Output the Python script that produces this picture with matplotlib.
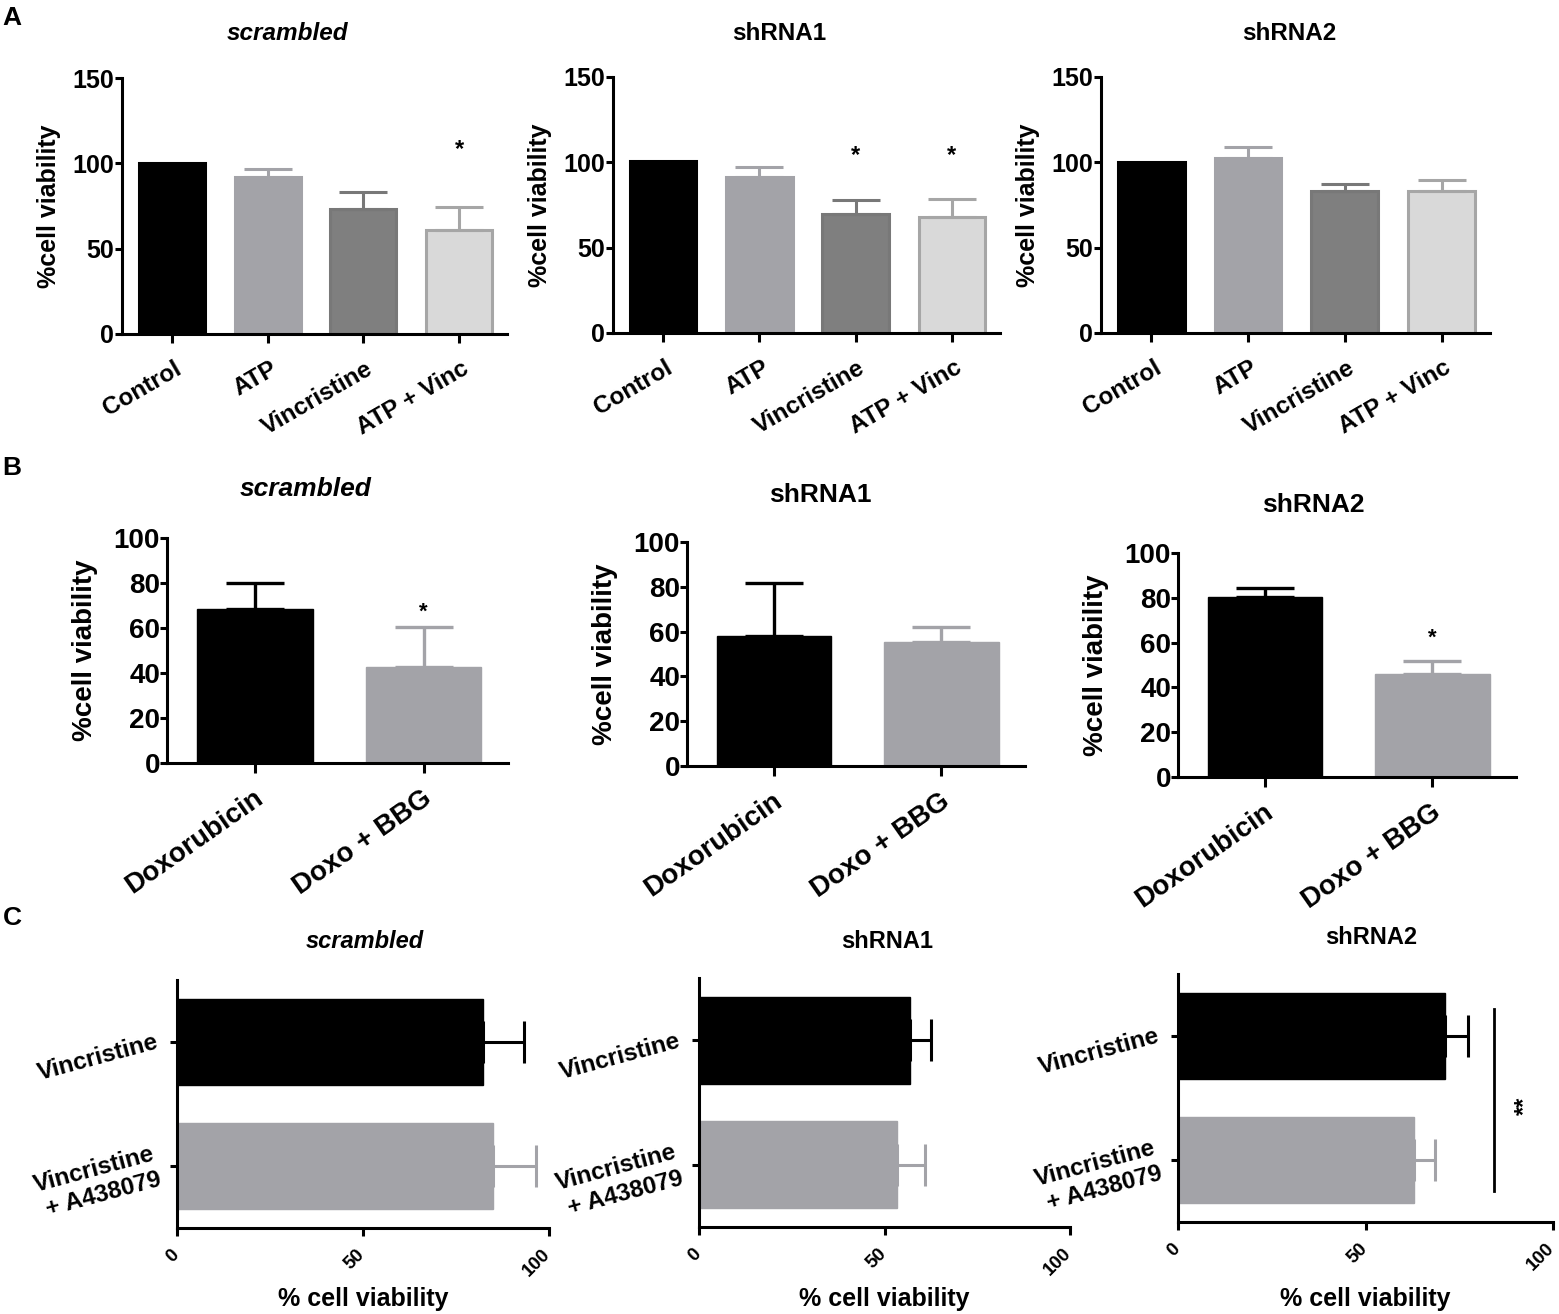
#!/usr/bin/env python3
"""
Cell viability panels A (ATP/Vincristine), B (Doxorubicin/BBG), C (Vincristine/A438079).
"""
import numpy as np
import matplotlib
matplotlib.use("Agg")
from matplotlib import pyplot as plt
from matplotlib.transforms import ScaledTranslation

plt.rcParams['font.family'] = ['Liberation Sans', 'DejaVu Sans']
plt.rcParams['font.weight'] = 'bold'
plt.rcParams['axes.labelweight'] = 'bold'

W, H = 1559, 1314
DPI = 100

### data
lines = ["scrambled", "shRNA1", "shRNA2"]

a_groups = ["Control", "ATP", "Vincristine", "ATP + Vinc"]
a_means = [[100, 92, 73, 61], [101, 91.5, 69.5, 68], [100, 102.7, 83.2, 83.2]]
a_sem = [[0, 4.5, 10, 13.5], [0, 6, 8.2, 10.5], [0, 6.3, 3.9, 6.3]]
a_sig = [["", "", "", "*"], ["", "", "*", "*"], ["", "", "", ""]]

b_groups = ["Doxorubicin", "Doxo + BBG"]
b_means = [[68.5, 42.7], [58, 55.4], [80.4, 46]]
b_sem = [[11.5, 17.7], [23.7, 6.6], [4, 5.8]]
b_sig = [["", "*"], ["", ""], ["", "*"]]

c_groups = ["Vincristine", "Vincristine\n+ A438079"]
c_means = [[82.3, 85], [56.9, 53.3], [71.2, 62.8]]
c_sem = [[11, 11.5], [5.7, 7.5], [6.1, 5.7]]

a_fill = ['#000000', '#a3a3a8', '#7f7f7f', '#d9d9d9']
a_edge = ['#000000', '#a3a3a8', '#787878', '#a6a6a6']
b_fill = ['#000000', '#a3a3a8']

###
def add_ax(l, t, r, b):
  return fig.add_axes([l/W, 1-b/H, (r-l)/W, (b-t)/H])

def style(ax, lw=2.2):
  for s in ['top', 'right']:
    ax.spines[s].set_visible(False)
  for s in ['left', 'bottom']:
    ax.spines[s].set_linewidth(lw)
  ax.tick_params(width=lw, direction='out')

def shift_labels(labels, dx, dy=0):
  # must come after tick_params(pad=...), which resets label transforms
  off = ScaledTranslation(dx/DPI, dy/DPI, fig.dpi_scale_trans)
  for lab in labels:
    lab.set_transform(lab.get_transform() + off)

def title(x, y, txt, size):
  st = 'italic' if txt == "scrambled" else 'normal'
  fig.text(x/W, 1-y/H, txt, ha='center', va='center', fontsize=size, fontweight='bold', style=st)

fig = plt.figure(figsize=(W/DPI, H/DPI), dpi=DPI)

### Panel A
a_boxes = [(122, 78, 507, 334), (613, 77, 1000, 333), (1101, 77, 1490, 333)]
a_title_xy = [(288, 33), (779, 33), (1289, 33)]
a_star_y = [[0, 0, 0, 108], [0, 0, 104, 104], [0, 0, 0, 0]]
for k in range(3):
  ax = add_ax(*a_boxes[k])
  style(ax)
  x = np.arange(len(a_groups))
  ax.bar(x, a_means[k], width=0.69, color=a_fill, edgecolor=a_edge, linewidth=2.2, zorder=2)
  for i in range(len(x)):
    if a_sem[k][i] > 0:
      ax.errorbar(x[i], a_means[k][i], yerr=[[0], [a_sem[k][i]]], fmt='none', ecolor=a_edge[i],
                  elinewidth=2.2, capthick=2.2, capsize=17, zorder=3)
    if a_sig[k][i]:
      ax.text(x[i], a_star_y[k][i], a_sig[k][i], ha='center', va='center', fontsize=17)
  ax.set_xlim(-0.52, 3.5)
  ax.set_ylim(0, 150)
  ax.set_yticks([0, 50, 100, 150])
  ax.tick_params(axis='y', length=5, pad=1, labelsize=18)
  ax.tick_params(axis='x', length=6.5, pad=10, labelsize=17.5)
  ax.set_xticks(x)
  ax.set_xticklabels(a_groups, rotation=30, ha='right', va='top', rotation_mode='anchor')
  shift_labels(ax.get_xticklabels(), 2)
  ax.set_ylabel("%cell viability", fontsize=18, fontweight='bold')
  ax.yaxis.set_label_coords(-61/(a_boxes[k][2]-a_boxes[k][0]), 0.5)
  title(a_title_xy[k][0], a_title_xy[k][1], lines[k], 17.5)

### Panel B
b_boxes = [(167, 538, 508, 763), (687, 542, 1025, 766), (1178, 553, 1516, 777)]
b_title_xy = [(306, 489), (820, 495), (1313, 505)]
b_star_y = [[0, 67], [0, 0], [0, 62]]
for k in range(3):
  ax = add_ax(*b_boxes[k])
  style(ax)
  x = np.arange(len(b_groups))
  ax.bar(x, b_means[k], width=0.685, color=b_fill, edgecolor=b_fill, linewidth=1, zorder=2)
  for i in range(len(x)):
    ax.errorbar(x[i], b_means[k][i], yerr=[[0], [b_sem[k][i]]], fmt='none', ecolor=b_fill[i],
                elinewidth=2.4, capthick=2.4, capsize=21, zorder=3)
    if b_sig[k][i]:
      ax.text(x[i], b_star_y[k][i], b_sig[k][i], ha='center', va='center', fontsize=16)
  ax.set_xlim(-0.52, 1.5)
  ax.set_ylim(0, 100)
  ax.set_yticks([0, 20, 40, 60, 80, 100])
  ax.tick_params(axis='y', length=5, pad=0, labelsize=20)
  ax.tick_params(axis='x', length=7, pad=9, labelsize=20)
  ax.set_xticks(x)
  ax.set_xticklabels(b_groups, rotation=35, ha='right', va='top', rotation_mode='anchor')
  shift_labels(ax.get_xticklabels(), -2)
  ax.set_ylabel("%cell viability", fontsize=20, fontweight='bold')
  ax.yaxis.set_label_coords(-69/(b_boxes[k][2]-b_boxes[k][0]), 0.5)
  title(b_title_xy[k][0], b_title_xy[k][1], lines[k], 19)

### Panel C
c_boxes = [(177, 980, 549, 1228), (699, 978, 1070, 1227), (1178, 974, 1553, 1222)]
c_title_xy = [(365, 942), (887, 942), (1371, 938)]
for k in range(3):
  ax = add_ax(*c_boxes[k])
  style(ax)
  y = np.arange(len(c_groups))
  ax.barh(y, c_means[k], height=0.7, color=b_fill, edgecolor=b_fill, linewidth=1, zorder=2)
  for i in range(len(y)):
    ax.errorbar(c_means[k][i], y[i], xerr=[[0], [c_sem[k][i]]], fmt='none', ecolor=b_fill[i],
                elinewidth=2.2, capthick=2.2, capsize=15, zorder=3)
  ax.set_ylim(1.5, -0.5)
  ax.set_xlim(0, 100)
  ax.tick_params(axis='y', length=5, pad=9, labelsize=17.5)
  ax.tick_params(axis='x', length=6, pad=7, labelsize=13.5)
  ax.set_xticks([0, 50, 100])
  ax.set_yticks(y)
  ax.set_yticklabels(c_groups, rotation=15, ha='right', va='center', rotation_mode='anchor',
                     multialignment='right')
  ax.set_xticklabels(["0", "50", "100"], rotation=45, ha='right', va='top', rotation_mode='anchor')
  shift_labels(ax.get_xticklabels(), -7)
  ax.set_xlabel("% cell viability", fontsize=18, fontweight='bold')
  hpx = c_boxes[k][3]-c_boxes[k][1]
  ax.xaxis.set_label_coords(0.5, -(1287-c_boxes[k][3])/hpx)
  title(c_title_xy[k][0], c_title_xy[k][1], lines[k], 17)
  if k == 2:
    # significance bracket between the two bars
    ax.plot([84.3, 84.3], [-0.22, 1.25], color='black', lw=2, clip_on=False)
    ax.text(92.5, 0.56, "**", rotation=90, ha='center', va='center', fontsize=17)

### panel letters
for lab, yy in [("A", 18), ("B", 468), ("C", 918)]:
  fig.text(12/W, 1-yy/H, lab, ha='center', va='center', fontsize=19, fontweight='bold')

fig.savefig("out.png", dpi=DPI)
